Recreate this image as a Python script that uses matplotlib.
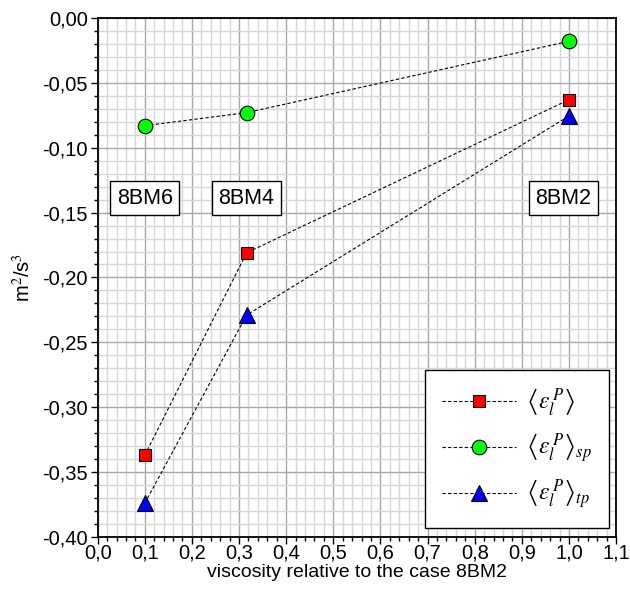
import matplotlib
matplotlib.use("Agg")
import matplotlib.pyplot as plt
from matplotlib.ticker import MultipleLocator, FuncFormatter

plt.rcParams['font.family'] = ['Liberation Sans', 'DejaVu Sans']
plt.rcParams['mathtext.fontset'] = 'stix'

viscosity = [0.1, 0.316, 1.0]
eps_total = [-0.337, -0.181, -0.063]
eps_sp = [-0.083, -0.073, -0.018]
eps_tp = [-0.374, -0.229, -0.0755]
case_labels = ['8BM6', '8BM4', '8BM2']
case_label_x = [0.1, 0.316, 0.988]
case_label_y = -0.139

labels = [r'$\left\langle \varepsilon_l^{\,P} \right\rangle$',
          r'$\left\langle \varepsilon_l^{\,P} \right\rangle_{sp}$',
          r'$\left\langle \varepsilon_l^{\,P} \right\rangle_{tp}$']

fig = plt.figure(figsize=(6.3, 5.98), dpi=100)
ax = fig.add_axes([0.155, 0.102, 0.823, 0.868])

ax.set_xlim(0.0, 1.1)
ax.set_ylim(-0.40, 0.0)
ax.xaxis.set_major_locator(MultipleLocator(0.1))
ax.xaxis.set_minor_locator(MultipleLocator(0.02))
ax.yaxis.set_major_locator(MultipleLocator(0.05))
ax.yaxis.set_minor_locator(MultipleLocator(0.01))
ax.xaxis.set_major_formatter(FuncFormatter(lambda v, p: f"{v:.1f}".replace('.', ',').replace('-0,0', '0,0')))
ax.yaxis.set_major_formatter(FuncFormatter(lambda v, p: ("0,00" if abs(v) < 1e-9 else f"{v:.2f}".replace('.', ','))))

ax.grid(which='minor', color='#d6d6d6', linewidth=1.0, zorder=0)
ax.grid(which='major', color='#a8a8a8', linewidth=1.0, zorder=0)
ax.set_axisbelow(True)

ax.tick_params(which='major', direction='out', length=5, width=1, labelsize=14.5, colors='black', pad=2)
ax.tick_params(axis='x', which='major', pad=0)
ax.tick_params(which='minor', direction='out', length=3, width=1)
for s in ax.spines.values():
    s.set_linewidth(1.3)

line_kw = dict(color='black', linestyle=(0, (3, 2)), linewidth=0.8, markeredgecolor='black', markeredgewidth=0.8, zorder=3)
l1, = ax.plot(viscosity, eps_total, marker='s', markersize=9, markerfacecolor='#ff0000', label=labels[0], **line_kw)
l2, = ax.plot(viscosity, eps_sp, marker='o', markersize=10.5, markerfacecolor='#00ff00', label=labels[1], **line_kw)
l3, = ax.plot(viscosity, eps_tp, marker='^', markersize=11.5, markerfacecolor='#0000ff', label=labels[2], **line_kw)

for lab, xx in zip(case_labels, case_label_x):
    ax.text(xx, case_label_y, lab, ha='center', va='center', fontsize=15.5, zorder=4,
            bbox=dict(boxstyle='square,pad=0.3', facecolor='white', edgecolor='black', linewidth=1.0))

leg = ax.legend(handles=[l1, l2, l3], loc='lower right', bbox_to_anchor=(0.987, 0.017),
                fontsize=17, handlelength=3.1, handletextpad=0.45, labelspacing=0.53,
                borderpad=0.72, borderaxespad=0.0, fancybox=False, framealpha=1.0,
                edgecolor='black', numpoints=1)
leg.get_frame().set_linewidth(1.0)
leg.set_zorder(5)

ax.set_xlabel('viscosity relative to the case 8BM2', fontsize=14, labelpad=1)
ax.set_ylabel(r'm$^2$/s$^3$', fontsize=14.5, labelpad=6)

fig.savefig('out.png', dpi=100)
